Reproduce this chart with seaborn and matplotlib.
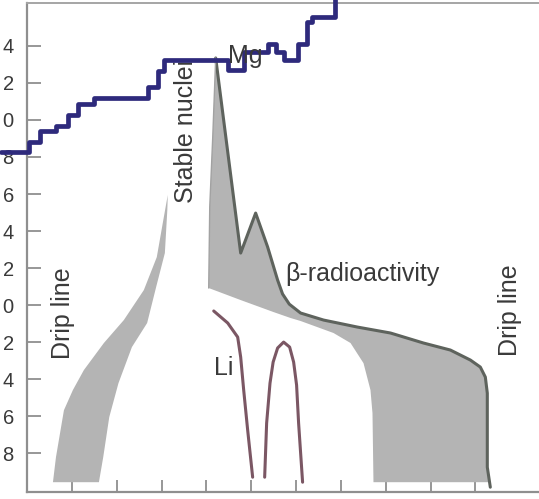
import matplotlib
matplotlib.use("Agg")
import matplotlib.pyplot as plt
import seaborn as sns
import pandas as pd

sns.set_style("white")
plt.rcParams["font.family"] = ["Liberation Sans", "DejaVu Sans"]
plt.rcParams["axes.unicode_minus"] = False

# ---------------- data ----------------
y_ticks = [14, 12, 10, 8, 6, 4, 2, 0, -2, -4, -6, -8]
# the reference is cropped: only the last digit of each label is visible
y_tick_labels = ["4", "2", "0", "8", "6", "4", "2", "0", "2", "4", "6", "8"]
x_ticks = [1, 2, 3, 4, 5, 6, 7, 8, 9, 10]

# stable-nuclei staircase (steps-post)
step_x = [-0.58, 0.045, 0.29, 0.646, 0.913, 1.136, 1.492, 2.695, 2.918, 3.051,
          4.477, 4.833, 5.367, 5.546, 5.724, 6.036, 6.236, 6.347, 6.86, 6.86]
step_y = [8.27, 8.81, 9.41, 9.68, 10.27, 10.86, 11.19, 11.78, 12.65, 13.24,
          12.70, 13.68, 14.11, 13.68, 13.24, 14.11, 15.30, 15.57, 16.6, 16.6]

# left drip-line band
drip_left_x = [0.579, 0.646, 0.824, 1.024, 1.269, 1.715, 2.160, 2.606, 2.895, 3.040, 3.140,
               3.130, 3.075, 2.880, 2.680, 2.340, 2.040, 1.835, 1.700, 1.604]
drip_left_y = [-9.57, -8.22, -5.68, -4.59, -3.51, -2.05, -0.81, 0.81, 2.59, 4.59, 5.95,
               5.14, 2.81, 0.97, -0.97, -2.27, -4.22, -6.05, -8.22, -9.57]

# beta-radioactivity region: upper (outlined) edge
beta_top_x = [4.209, 4.766, 5.100, 5.367, 5.590, 5.700, 5.850, 6.102, 6.615, 7.372, 8.107,
              8.842, 9.443, 9.889, 10.111, 10.223, 10.267, 10.267, 10.334]
beta_top_y = [13.35, 2.81, 4.97, 3.14, 1.35, 0.60, 0.05, -0.43, -0.81, -1.19, -1.51,
              -2.05, -2.43, -2.97, -3.35, -3.89, -4.76, -8.76, -9.84]
# lower edge (right to left) and left edge back to the apex
beta_low_x = [10.30, 7.728, 7.706, 7.661, 7.506, 7.216, 6.837, 6.102, 5.880, 5.501,
              4.766, 4.053, 4.076, 4.143]
beta_low_y = [-9.57, -9.57, -5.84, -4.59, -3.14, -2.05, -1.51, -0.86, -0.70, -0.38,
              0.27, 0.92, 5.30, 9.08]

# Li curves
li1_x = [4.165, 4.477, 4.699, 4.766, 4.833, 4.922, 5.033]
li1_y = [-0.32, -0.97, -1.73, -2.81, -4.59, -6.76, -9.30]
li2_x = [5.301, 5.345, 5.420, 5.490, 5.590, 5.724, 5.858, 5.947, 6.013, 6.058, 6.147]
li2_y = [-9.30, -6.38, -4.22, -3.08, -2.32, -2.00, -2.27, -3.08, -4.32, -6.38, -9.57]

labels = {
    "Stable nuclei": (3.541, 5.51),
    "Mg": (4.477, 13.08),
    "β-radioactivity": (5.768, 1.30),
    "Li": (4.165, -3.78),
    "Drip line L": (0.813, -0.46),
    "Drip line R": (10.78, -0.27),
}

# ---------------- figure ----------------
W, H = 539, 499
fig = plt.figure(figsize=(W / 100, H / 100), dpi=100)
ax = fig.add_axes([27 / W, 7 / H, 1 - 27 / W, 489 / H])
ax.set_xlim(0, 11.42)
ax.set_ylim(-10.1, 16.32)

fill_col = "#b4b4b4"
edge_col = "#5e635d"
blue = "#2e2a7c"
li_col = "#7b5764"
txt_col = "#3a3a3a"

ax.fill(drip_left_x, drip_left_y, color=fill_col, lw=0, zorder=1)
ax.fill(beta_top_x + beta_low_x, beta_top_y + beta_low_y, color=fill_col, lw=0, zorder=1)
ax.plot(beta_top_x, beta_top_y, color=edge_col, lw=2.2, solid_joinstyle="round", zorder=2)
ax.plot(beta_low_x[-3:] + [beta_top_x[0]], beta_low_y[-3:] + [beta_top_y[0]],
        color="#a2a2a2", lw=1.0, zorder=2)

df1 = pd.DataFrame({"x": li1_x, "y": li1_y})
df2 = pd.DataFrame({"x": li2_x, "y": li2_y})
sns.lineplot(data=df1, x="x", y="y", ax=ax, color=li_col, lw=2.2, sort=False, zorder=3)
sns.lineplot(data=df2, x="x", y="y", ax=ax, color=li_col, lw=2.2, sort=False, zorder=3)

dfs = pd.DataFrame({"x": step_x, "y": step_y})
sns.lineplot(data=dfs, x="x", y="y", ax=ax, color=blue, lw=3.4, sort=False,
             drawstyle="steps-post", clip_on=False, zorder=4)

fs = 18
ax.text(*labels["Stable nuclei"], "Stable nuclei", rotation=90, ha="center", va="bottom",
        fontsize=fs, color=txt_col, zorder=3)
ax.text(*labels["Mg"], "Mg", ha="left", va="baseline", fontsize=fs, color=txt_col, zorder=5)
ax.text(*labels["β-radioactivity"], "β-radioactivity", ha="left", va="baseline",
        fontsize=fs, color=txt_col, zorder=5)
ax.text(*labels["Li"], "Li", ha="left", va="baseline", fontsize=fs, color=txt_col, zorder=5)
ax.text(*labels["Drip line L"], "Drip line", rotation=90, ha="center", va="center",
        fontsize=fs, color=txt_col, zorder=5)
ax.text(*labels["Drip line R"], "Drip line", rotation=90, ha="center", va="center",
        fontsize=fs, color=txt_col, zorder=5)

ax.set_yticks(y_ticks)
ax.set_yticklabels(y_tick_labels)
ax.set_xticks(x_ticks)
ax.set_xticklabels([])
ax.set_xlabel("")
ax.set_ylabel("")
ax.tick_params(axis="y", direction="in", length=10, width=1.3, color="#8f8f8f",
               labelsize=14.5, labelcolor=txt_col, pad=9.5, left=True)
ax.tick_params(axis="x", direction="in", length=9, width=1.3, color="#8f8f8f", bottom=True)

for side in ["left", "bottom"]:
    ax.spines[side].set_color("#8f8f8f")
    ax.spines[side].set_linewidth(1.6)
ax.spines["top"].set_color("#a5a5a5")
ax.spines["top"].set_linewidth(1.4)
ax.spines["right"].set_visible(False)

fig.savefig("out.png", dpi=100)
